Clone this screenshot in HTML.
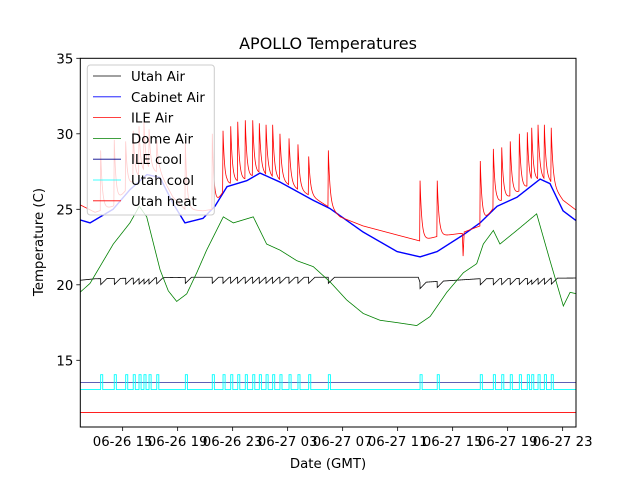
<!DOCTYPE html>
<html><head><meta charset="utf-8"><style>
body{margin:0;background:#fff}
svg text{font-family:"DejaVu Sans","Liberation Sans",sans-serif;fill:#000}
</style></head><body>
<svg id="c" width="640" height="480" viewBox="0 0 640 480" xmlns="http://www.w3.org/2000/svg">
<rect width="640" height="480" fill="#fff"/>
<text x="328" y="49" font-size="16" text-anchor="middle">APOLLO Temperatures</text>
<text x="328" y="468" font-size="13.3" text-anchor="middle">Date (GMT)</text>
<text x="0" y="0" font-size="13.3" text-anchor="middle" transform="translate(43,242) rotate(-90)">Temperature (C)</text>
<g id="plot"></g>
<g id="axes"></g>
<g id="legend"></g>
</svg>
<script>
// time in hours since 06-26 00:00 GMT
const xTickHours = [15,19,23,27,31,35,39,43,47];
const xTickLabels = ["06-26 15","06-26 19","06-26 23","06-27 03","06-27 07","06-27 11","06-27 15","06-27 19","06-27 23"];
const yTicks = [15,20,25,30,35];
const cabinetT = [11.9,12.63,14.3,15.53,16.77,17.72,18.66,19.53,20.84,21.71,22.59,24.04,24.99,26.45,28.85,30.08,32.48,34.96,36.63,37.87,39.76,40.99,42.23,43.68,45.36,46.08,47.03,48.05];
const cabinetV = [24.3,24.1,25.0,26.3,27.3,27.1,25.4,24.1,24.4,25.2,26.5,26.9,27.4,26.8,25.6,25.05,23.5,22.2,21.85,22.2,23.3,24.1,25.2,25.8,27.0,26.7,24.9,24.2];
const ileBaseT = [11.9,12.99,14.3,15.53,16.77,17.72,18.66,19.53,20.84,21.57,22.07,22.59,24.04,24.99,26.45,28.85,30.08,30.81,32.48,34.96,36.63,37.87,39.54,39.7,39.76,39.84,40.99,42.23,43.68,45.36,46.08,47.03,48.05];
const ileBaseV = [25.3,24.8,25.2,26.6,27.6,27.4,25.8,25.0,24.9,25.0,25.8,26.6,27.0,27.4,26.9,25.8,25.1,24.5,23.9,23.3,22.9,23.2,23.4,23.4,21.9,23.5,23.9,25.4,26.1,27.0,26.8,25.6,24.9];
const pulseT = [13.40,14.39,15.22,15.77,16.19,16.55,16.92,17.48,19.56,21.52,22.30,22.86,23.37,23.92,24.46,24.94,25.43,25.91,26.44,27.10,27.75,28.53,29.96,36.63,37.88,41.01,41.96,42.57,43.19,43.85,44.43,44.75,45.21,45.67,46.17];
const ilePeakV = [28.9,29.6,29.5,30.2,30.5,30.8,30.3,29.6,29.4,30.0,30.2,30.5,30.8,30.9,30.9,30.7,30.6,30.6,30.0,29.7,29.3,28.5,28.9,26.9,26.9,28.2,29.0,29.1,29.5,30.0,30.1,30.4,30.6,30.6,30.4];
const domeT = [11.9,12.63,14.32,15.53,16.21,16.75,17.72,18.32,18.93,19.66,20.39,21.11,22.32,23.05,24.5,25.47,26.44,27.66,28.87,30.08,31.29,32.5,33.72,34.93,36.39,37.36,38.57,39.78,40.75,41.23,41.96,42.44,43.66,45.11,46.08,47.05,47.54,48.05];
const domeV = [19.5,20.1,22.7,24.1,25.2,24.5,21.0,19.6,18.9,19.4,20.8,22.3,24.5,24.1,24.5,22.7,22.3,21.6,21.2,20.2,19.0,18.1,17.65,17.5,17.3,17.9,19.5,20.8,21.4,22.7,23.6,22.7,23.6,24.7,21.6,18.6,19.5,19.4];
const utahBaseT = [11.9,13.0,20.0,30.0,36.5,36.63,37.5,40.9,48.05];
const utahBaseV = [20.3,20.4,20.5,20.5,20.5,20.15,20.2,20.4,20.45];
const ileCoolV = 13.52, utahCoolLow = 13.06, utahCoolHigh = 14.05, utahHeatV = 11.54;

const L=80.3,R=576,T=58.3,B=427, t0=11.92, tpx=13.75;
const X=t=>L+(t-t0)*tpx;
const Y=v=>T+(35-v)*15.1;
const NS="http://www.w3.org/2000/svg";
function mk(tag,attrs,parent){const e=document.createElementNS(NS,tag);for(const k in attrs)e.setAttribute(k,attrs[k]);parent.appendChild(e);return e;}
function interp(ts,vs,t){if(t<=ts[0])return vs[0];for(let i=1;i<ts.length;i++){if(t<=ts[i]){const f=(t-ts[i-1])/(ts[i]-ts[i-1]);return vs[i-1]+f*(vs[i]-vs[i-1]);}}return vs[vs.length-1];}
const tMin=11.9,tMax=48.05;
const plot=document.getElementById('plot');
const cp=mk('clipPath',{id:'clip'},plot);
mk('rect',{x:L,y:T,width:R-L,height:B-T},cp);
const g=mk('g',{'clip-path':'url(#clip)'},plot);
function poly(pts,color,name,w){const p=mk('polyline',{points:pts.map(q=>q[0].toFixed(2)+','+q[1].toFixed(2)).join(' '),fill:'none',stroke:color,'stroke-width':w||0.8},g);

}
poly([[X(tMin),Y(utahHeatV)],[X(tMax),Y(utahHeatV)]],'#ff0000','utah-heat-line',0.8);
poly([[X(tMin),Y(ileCoolV)],[X(tMax),Y(ileCoolV)]],'#00008b','ile-cool-line',0.6);
let uc=[[X(tMin),Y(utahCoolLow)]];
pulseT.forEach(ts=>{uc.push([X(ts),Y(utahCoolLow)],[X(ts),Y(utahCoolHigh)],[X(ts+0.15),Y(utahCoolHigh)],[X(ts+0.15),Y(utahCoolLow)]);});
uc.push([X(tMax),Y(utahCoolLow)]);
poly(uc,'#00ffff','utah-cool-line',0.9);
const dt=0.01;
let cab=[],ile=[],dome=[],utah=[];
for(let t=tMin;t<=tMax+1e-9;t+=dt){
  cab.push([X(t),Y(interp(cabinetT,cabinetV,t))]);
  dome.push([X(t),Y(interp(domeT,domeV,t))]);
  let b=interp(ileBaseT,ileBaseV,t),v=b;
  let ub=interp(utahBaseT,utahBaseV,t),dip=0;
  pulseT.forEach((ts,i)=>{
    if(t>=ts){const e=t-ts;const s=b+(ilePeakV[i]-interp(ileBaseT,ileBaseV,ts))*Math.exp(-e/0.13);if(s>v)v=s;
      const d=0.4*Math.max(0,1-e/0.45);if(d>dip)dip=d;}
    else if(ts-t<0.03){const s=b+(ilePeakV[i]-b)*(1-(ts-t)/0.03);if(s>v)v=s;}
  });
  ile.push([X(t),Y(v)]);
  utah.push([X(t),Y(ub-dip)]);
}
poly(utah,'#000000','utah-air-line',0.8);
poly(dome,'#008000','dome-air-line',0.8);
poly(cab,'#0000ff','cabinet-air-line',1.4);
poly(ile,'#ff0000','ile-air-line',0.8);
const ax=document.getElementById('axes');
const fr=mk('rect',{x:L,y:T,width:R-L,height:B-T,fill:'none',stroke:'#000','stroke-width':1},ax);


xTickHours.forEach((h,i)=>{const x=X(h);mk('line',{x1:x,x2:x,y1:B,y2:B+4,stroke:'#000','stroke-width':0.8},ax);
 const tx=mk('text',{x:x,y:B+19,'font-size':13.3,'text-anchor':'middle'},ax);tx.textContent=xTickLabels[i];
 
 });
yTicks.forEach(v=>{const y=Y(v);mk('line',{x1:L-4,x2:L,y1:y,y2:y,stroke:'#000','stroke-width':0.8},ax);
 const tx=mk('text',{x:L-7,y:y+5,'font-size':13.3,'text-anchor':'end'},ax);tx.textContent=v;
 
 });
const lg=document.getElementById('legend');
mk('rect',{x:87.3,y:65,width:127,height:150,rx:3,fill:'#fff','fill-opacity':0.8,stroke:'#ccc','stroke-width':1},lg);
const legNames=["Utah Air","Cabinet Air","ILE Air","Dome Air","ILE cool","Utah cool","Utah heat"];
const legColors=["#000","#0000ff","#ff0000","#008000","#00008b","#00ffff","#ff0000"];
legNames.forEach((n,i)=>{const y=76+i*20.8;
 const ge=mk('g',{},lg);
 
 
 mk('line',{x1:93,x2:121,y1:y,y2:y,stroke:legColors[i],'stroke-width':0.8},ge);
 const tx=mk('text',{x:131,y:y+5,'font-size':13.3},ge);tx.textContent=n;});
</script>
</body></html>
